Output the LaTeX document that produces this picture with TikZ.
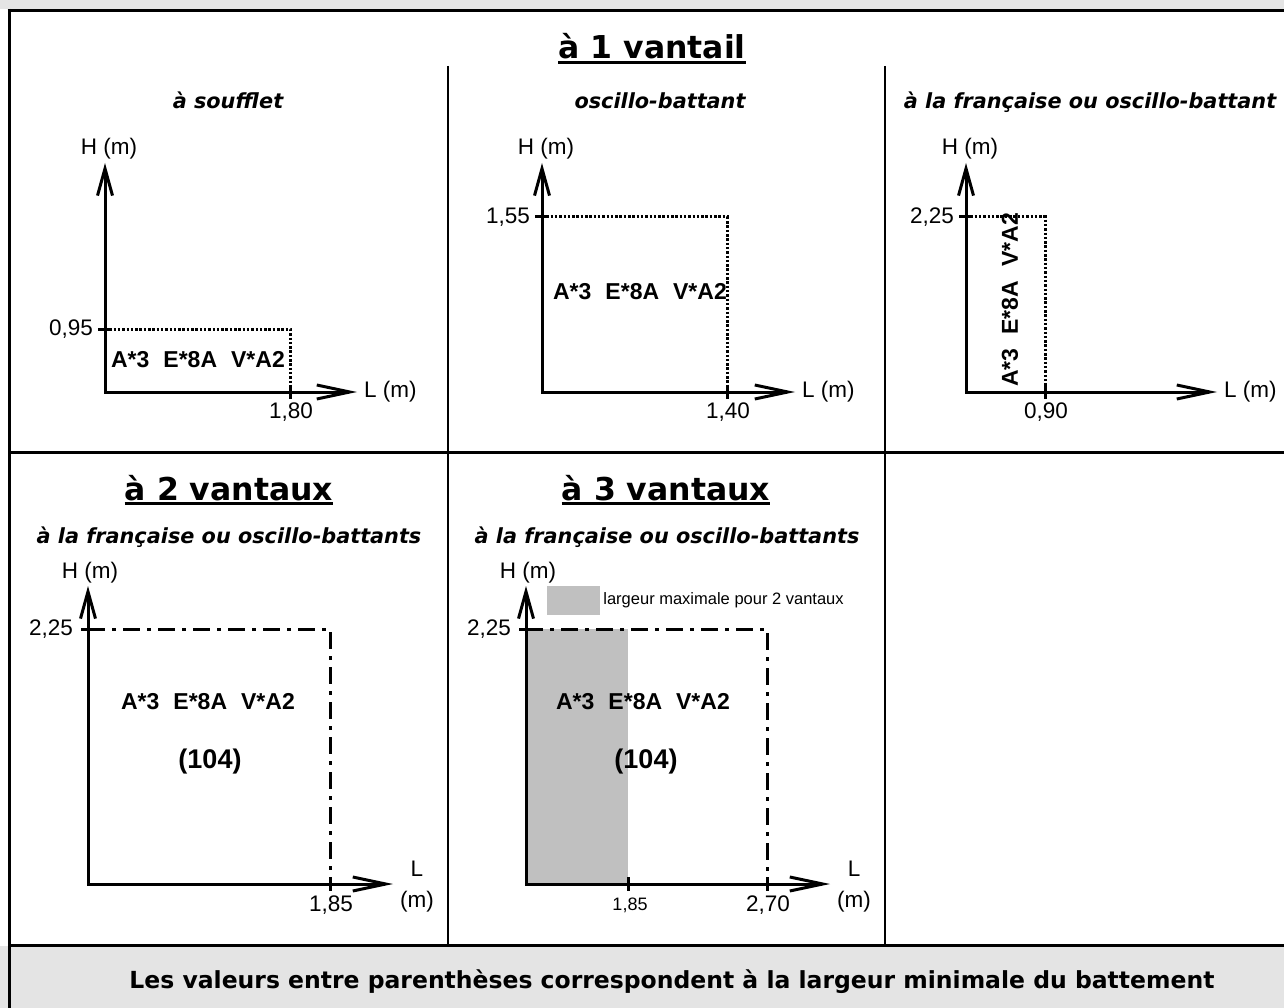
\documentclass[tikz,border=0pt]{standalone}
\usepackage{fontspec}
\setmainfont{Liberation Sans}
\newfontfamily\verdfont{DejaVu Sans}[ItalicFont={DejaVu Sans Oblique},BoldItalicFont={DejaVu Sans Bold Oblique}]
\usetikzlibrary{arrows.meta}

\definecolor{bandgray}{HTML}{E4E4E4}
\definecolor{fillgray}{HTML}{C0C0C0}
\newcommand{\perfs}{A*3\hspace{14pt}E*8A\hspace{14pt}V*A2}

\begin{document}
\begin{tikzpicture}[x=1pt,y=-1pt,
    axis/.style={line width=3pt,line join=miter,arrows={Straight Barb[length=27pt,width=15pt]-Straight Barb[length=33pt,width=14pt]}},
    tick/.style={line width=3pt},
    dotline/.style={line width=3pt,dash pattern=on 2.5pt off 1.8pt},
    dashdot/.style={line width=3pt,dash pattern=on 17pt off 7pt on 4pt off 7pt},
    rule/.style={line width=3pt},
    thinrule/.style={line width=2pt},
    lbl/.style={inner sep=0pt,font=\fontsize{22.5}{31}\selectfont},
    smalllbl/.style={inner sep=0pt,font=\fontsize{18}{22}\selectfont},
    keylbl/.style={inner sep=0pt,font=\fontsize{16.5}{20}\selectfont},
    code/.style={inner sep=0pt,font=\fontsize{23}{27}\selectfont\bfseries},
    bigcode/.style={inner sep=0pt,font=\fontsize{27}{32}\selectfont\bfseries},
    title/.style={inner sep=0pt,anchor=base,font=\verdfont\fontsize{31.5}{36}\selectfont\bfseries},
    subtitle/.style={inner sep=0pt,anchor=base,font=\verdfont\fontsize{20.8}{25}\selectfont\bfseries\itshape},
  ]

        \useasboundingbox (0,0) rectangle (1284,1008);

        % Bands
        \fill[bandgray] (0,0) rectangle (1284,9);
        \fill[bandgray] (0,946) rectangle (1284,1008);

        % Table rules
        \draw[rule] (7.5,10.3) -- (1284,10.3);
        \draw[rule] (9.2,8.8) -- (9.2,1008);
        \draw[rule] (9.2,452) -- (1284,452);
        \draw[rule] (9.2,945) -- (1284,945);
        \draw[thinrule] (448,66) -- (448,945);
        \draw[thinrule] (885,66) -- (885,945);

        % Titles
        \node[title] (t1) at (652,59) {à 1 vantail};
        \draw[rule] ([yshift=-4pt]t1.base west) -- ([yshift=-4pt]t1.base east);
        \node[title] (t2) at (229,500) {à 2 vantaux};
        \draw[rule] ([yshift=-3.5pt]t2.base west) -- ([yshift=-3.5pt]t2.base east);
        \node[title] (t3) at (666,500) {à 3 vantaux};
        \draw[rule] ([yshift=-3.5pt]t3.base west) -- ([yshift=-3.5pt]t3.base east);

        \node[subtitle] (s1) at (228,109) {à soufflet};
        \node[subtitle] (s2) at (660,109) {oscillo-battant};
        \node[subtitle] (s3) at (1090,109) {à la française ou oscillo-battant};
        \node[subtitle] (s4) at (229,543) {à la française ou oscillo-battants};
        \node[subtitle] (s5) at (667,543) {à la française ou oscillo-battants};

        % Row 1: one leaf
        \foreach \n/\ox/\xt/\hy/\wx/\hv/\wv in {1/105/357/329/290/{0,95}/{1,80},2/542/795/217/727/{1,55}/{1,40},3/966/1217/217/1045/{2,25}/{0,90}} {
            \coordinate (o\n) at (\ox,392);
            \coordinate (y\n) at (\ox,163);
            \coordinate (x\n) at (\xt,392);
            \coordinate (c\n) at (\wx,\hy);
            \draw[dotline] (o\n |- c\n) -- (c\n) -- (c\n |- o\n);
            \draw[axis] (y\n) -- (o\n) -- (x\n);
            \draw[tick] ([xshift=-7pt]o\n |- c\n) -- ++(14,0);
            \draw[tick] ([yshift=7pt]c\n |- o\n) -- ++(0,14);
            \node[lbl,anchor=east] (hv\n) at ([xshift=-12pt]o\n |- c\n) {\hv};
            \node[lbl] (wv\n) at ([xshift=1pt,yshift=-20pt]c\n |- o\n) {\wv};
            \node[lbl] (hl\n) at ([xshift=4pt,yshift=14pt]y\n) {H (m)};
            \node[lbl,anchor=west] (ll\n) at ([xshift=7pt]x\n) {L (m)};
        }
        \node[code] (k1) at (198,360) {\perfs};
        \node[code] (k2) at (640,292) {\perfs};
        \node[code,rotate=90] (k3) at (1010,300) {\perfs};

        % Row 2: two and three leaves
        \fill[fillgray] (526,629) rectangle (628,884);
        \node[fill=fillgray,minimum width=53pt,minimum height=29pt,inner sep=0pt] (key) at (573.5,600.5) {};
        \node[keylbl,anchor=west] (keytext) at ([xshift=3pt]key.east) {largeur maximale pour 2 vantaux};

        \foreach \n/\ox/\xt/\wx/\wv in {4/88/393/330/{1,85},5/526/830/767/{2,70}} {
            \coordinate (o\n) at (\ox,884);
            \coordinate (y\n) at (\ox,586);
            \coordinate (x\n) at (\xt,884);
            \coordinate (c\n) at (\wx,629);
            \draw[dashdot] (o\n |- c\n) -- (c\n) -- (c\n |- o\n);
            \draw[axis] (y\n) -- (o\n) -- (x\n);
            \draw[tick] ([xshift=-7pt]o\n |- c\n) -- ++(14,0);
            \draw[tick] ([yshift=7pt]c\n |- o\n) -- ++(0,14);
            \node[lbl,anchor=east] (hv\n) at ([xshift=-15pt]o\n |- c\n) {2,25};
            \node[lbl] (wv\n) at ([xshift=1pt,yshift=-21pt]c\n |- o\n) {\wv};
            \node[lbl] (hl\n) at ([xshift=2pt,yshift=13pt]y\n) {H (m)};
            \node[lbl,align=center] (ll\n) at ([xshift=24pt,yshift=-3pt]x\n) {L\\(m)};
        }
        \coordinate (c6) at (628,884);
        \draw[tick] ([yshift=7pt]c6) -- ++(0,14);
        \node[smalllbl] (wv6) at ([xshift=2pt,yshift=-21pt]c6) {1,85};

        \node[code] (k4) at (208,702) {\perfs};
        \node[bigcode] (p4) at (210,762) {(104)};
        \node[code] (k5) at (643,702) {\perfs};
        \node[bigcode] (p5) at (646,762) {(104)};

        % Note
        \node[inner sep=0pt,anchor=base,font=\verdfont\bfseries\fontsize{23.5}{28}\selectfont] (note) at (672,988) {Les valeurs entre parenthèses correspondent à la largeur minimale du battement};

\end{tikzpicture}
\end{document}
